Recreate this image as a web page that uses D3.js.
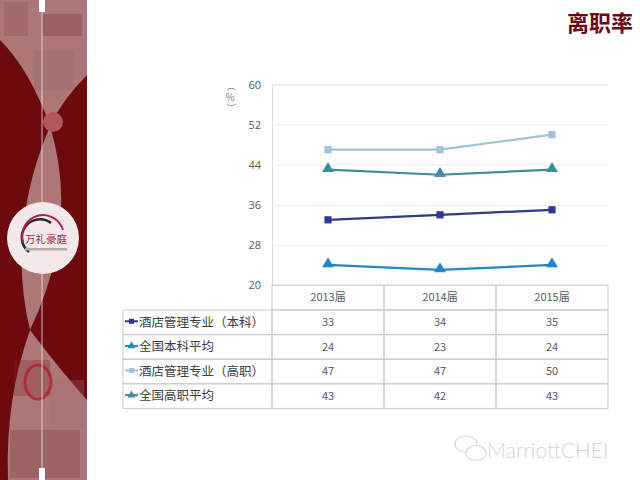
<!DOCTYPE html>
<html>
<head>
<meta charset="utf-8">
<script src="https://cdn.jsdelivr.net/npm/d3@7"></script>
<style>
  body { margin: 0; background: #fff; }
  svg { display: block; font-family: "Noto Sans CJK SC", "Open Sans", sans-serif; }
</style>
</head>
<body>
<div id="chart"></div>
<script>
// data
const categories = ["2013届", "2014届", "2015届"]
const seriesNames = ["酒店管理专业（本科）", "全国本科平均", "酒店管理专业（高职）", "全国高职平均"]
const benke = [33, 34, 35]
const benkeAvg = [24, 23, 24]
const gaozhi = [47, 47, 50]
const gaozhiAvg = [43, 42, 43]
const yTicks = [20, 28, 36, 44, 52, 60]

const seriesColors = ["#2e3a8c", "#2388c8", "#9cc3d9", "#3e8e9c"]
const seriesMarkers = ["square", "triangle", "square", "triangle"]
const series = [benke, benkeAvg, gaozhi, gaozhiAvg].map((values, i) => ({
  name: seriesNames[i],
  values: values,
  color: seriesColors[i],
  marker: seriesMarkers[i]
}))

const width = 640, height = 480

const svg = d3.select("#chart")
  .append("svg")
    .attr("width", width)
    .attr("height", height)

// ---- left decorative panel ----
const panel = svg.append("g").attr("id", "panel")
panel.append("rect")
  .attr("x", 0).attr("y", 0)
  .attr("width", 87).attr("height", height)
  .style("fill", "#6c0a0e")

const pink = "#ad7677"
// top piece
panel.append("path")
  .attr("d", "M0,0 L87,0 L87,75 Q62,100 50,126 Q30,70 0,40 Z")
  .style("fill", pink)
// middle lens
panel.append("path")
  .attr("d", "M50,126 Q80,225 30,330 Q6,230 50,126 Z")
  .style("fill", pink)
// bottom piece
panel.append("path")
  .attr("d", "M30,330 Q60,370 87,400 L87,480 L8,480 Q5,400 30,330 Z")
  .style("fill", pink)

// faint photo blocks
const blocks = [
  [4, 2, 24, 34, "#8a5054"], [42, 14, 40, 22, "#6f3034"], [34, 50, 40, 40, "#9c6a6a"],
  [14, 360, 36, 36, "#7d2a30"], [50, 380, 34, 48, "#9f7070"],
  [10, 430, 70, 48, "#7a3c3c"]
]
panel.selectAll("rect.block")
  .data(blocks)
  .enter()
  .append("rect")
    .attr("class", "block")
    .attr("x", d => d[0]).attr("y", d => d[1])
    .attr("width", d => d[2]).attr("height", d => d[3])
    .style("fill", d => d[4])
    .style("opacity", 0.3)

// red ring on lower part
panel.append("ellipse")
  .attr("cx", 38).attr("cy", 382).attr("rx", 13).attr("ry", 17)
  .style("fill", "none").style("stroke", "#b0202c").style("stroke-width", 3).style("opacity", 0.8)

panel.append("circle")
  .attr("cx", 53).attr("cy", 122).attr("r", 10)
  .style("fill", "#b0585a")

panel.append("line")
  .attr("x1", 42).attr("x2", 42)
  .attr("y1", 0).attr("y2", height)
  .style("stroke", "#f4e6e6").style("stroke-width", 1).style("opacity", 0.8)
panel.append("rect").attr("x", 39).attr("y", 0).attr("width", 6).attr("height", 12).style("fill", "#fff")
panel.append("rect").attr("x", 39).attr("y", 468).attr("width", 6).attr("height", 12).style("fill", "#fff")

// logo
const logo = panel.append("g").attr("transform", "translate(43,238)")
logo.append("circle").attr("r", 36).style("fill", "#f3e9ea")
logo.append("path")
  .attr("d", "M-14,14 A18,18 0 0 1 8,-15")
  .style("fill", "none").style("stroke", "#2b2b2b").style("stroke-width", 2.5)
logo.append("path")
  .attr("d", "M-20,4 A20,20 0 0 1 20,-8")
  .style("fill", "none").style("stroke", "#b01f4a").style("stroke-width", 2)
logo.append("text")
  .attr("x", 3).attr("y", 5)
  .attr("text-anchor", "middle")
  .style("font-size", "10.5px")
  .style("fill", "#a01f4c")
  .text("万礼豪庭")
logo.append("rect")
  .attr("x", -18).attr("y", 10).attr("width", 42).attr("height", 2.5)
  .style("fill", "#b9a9ad")

// ---- title ----
svg.append("text")
  .attr("x", 633).attr("y", 31)
  .attr("text-anchor", "end")
  .style("font-size", "22px")
  .style("font-weight", "bold")
  .style("fill", "#6b0a10")
  .text("离职率")

// ---- chart ----
const plotLeft = 272, plotRight = 608, plotTop = 84.5, plotBottom = 285

const x = d3.scaleBand()
  .domain(categories)
  .range([plotLeft, plotRight])

const y = d3.scaleLinear()
  .domain([20, 60])
  .range([plotBottom, plotTop])

const yAxis = svg.append("g")
  .attr("transform", `translate(${plotLeft},0)`)
  .call(d3.axisLeft(y)
    .tickValues(yTicks)
    .tickSize(-(plotRight - plotLeft))
    .tickPadding(11))

yAxis.select(".domain").style("stroke", "#d9d9d9")
yAxis.selectAll(".tick line").style("stroke", "#ececec")
yAxis.selectAll(".tick text")
  .style("font-family", "'Open Sans', sans-serif")
  .style("font-size", "11px")
  .style("fill", "#595959")

// y axis unit
const unit = svg.append("g").style("fill", "#7f7f7f").style("font-size", "10px")
unit.append("text")
  .attr("transform", "translate(230,86) rotate(90)")
  .attr("text-anchor", "middle").attr("dy", "0.35em")
  .text("（")
unit.append("text")
  .attr("x", 230).attr("y", 101)
  .attr("text-anchor", "middle")
  .text("%")
unit.append("text")
  .attr("transform", "translate(230,108) rotate(90)")
  .attr("text-anchor", "middle").attr("dy", "0.35em")
  .text("）")

const cx = d => x(d) + x.bandwidth() / 2

const line = d3.line()
  .x((v, i) => cx(categories[i]))
  .y(v => y(v))

const sq = d3.symbol().type(d3.symbolSquare).size(52)
const tri = d3.symbol().type(d3.symbolTriangle).size(60)
const sqSmall = d3.symbol().type(d3.symbolSquare).size(26)
const triSmall = d3.symbol().type(d3.symbolTriangle).size(28)

const lines = svg.append("g").attr("id", "lines")
series.forEach(s => {
  lines.append("path")
    .datum(s.values)
    .attr("d", line)
    .style("fill", "none")
    .style("stroke", s.color)
    .style("stroke-width", 2.2)
  lines.selectAll(null)
    .data(s.values)
    .enter()
    .append("path")
      .attr("d", s.marker === "square" ? sq : tri)
      .attr("transform", (v, i) => `translate(${cx(categories[i])},${y(v) + (s.marker === "square" ? 0 : -1)})`)
      .style("fill", s.color)
})

// ---- data table ----
const tableLeft = 123
const headerH = 25
const rowH = 24.6
const border = "#c9c9c9"
const table = svg.append("g").attr("id", "table")

// header cells
table.selectAll("rect.head")
  .data(categories)
  .enter()
  .append("rect")
    .attr("class", "head")
    .attr("x", d => x(d))
    .attr("y", plotBottom)
    .attr("width", x.bandwidth())
    .attr("height", headerH)
    .style("fill", "none")
    .style("stroke", border)
table.selectAll("text.head")
  .data(categories)
  .enter()
  .append("text")
    .attr("class", "head")
    .attr("x", d => cx(d))
    .attr("y", plotBottom + headerH / 2)
    .attr("dy", "0.35em")
    .attr("text-anchor", "middle")
    .style("font-size", "11px")
    .style("fill", "#595959")
    .text(d => d)

const rows = table.selectAll("g.row")
  .data(series)
  .enter()
  .append("g")
    .attr("class", "row")
    .attr("transform", (d, i) => `translate(0,${plotBottom + headerH + i * rowH})`)

rows.append("rect")
  .attr("x", tableLeft).attr("y", 0)
  .attr("width", plotLeft - tableLeft).attr("height", rowH)
  .style("fill", "none").style("stroke", border)

rows.selectAll("rect.cell")
  .data(categories)
  .enter()
  .append("rect")
    .attr("class", "cell")
    .attr("x", d => x(d)).attr("y", 0)
    .attr("width", x.bandwidth()).attr("height", rowH)
    .style("fill", "none").style("stroke", border)

rows.selectAll("text.val")
  .data(s => s.values)
  .enter()
  .append("text")
    .attr("class", "val")
    .attr("x", (v, i) => cx(categories[i]))
    .attr("y", rowH / 2)
    .attr("dy", "0.35em")
    .attr("text-anchor", "middle")
    .style("font-size", "11px")
    .style("fill", "#595959")
    .text(v => v)

// legend keys
rows.append("line")
  .attr("x1", 125).attr("x2", 138)
  .attr("y1", rowH / 2 - 1).attr("y2", rowH / 2 - 1)
  .style("stroke", d => d.color).style("stroke-width", 2)
rows.append("path")
  .attr("d", d => d.marker === "square" ? sqSmall() : triSmall())
  .attr("transform", `translate(131.5,${rowH / 2 - 1})`)
  .style("fill", d => d.color)
rows.append("text")
  .attr("x", 139)
  .attr("y", rowH / 2)
  .attr("dy", "0.35em")
  .style("font-size", "12.5px")
  .style("fill", "#404040")
  .text(d => d.name)

// ---- watermark ----
const wm = svg.append("g").attr("id", "watermark").style("opacity", 0.9)
wm.append("ellipse").attr("cx", 466).attr("cy", 444).attr("rx", 11).attr("ry", 8)
  .style("fill", "none").style("stroke", "#d2d2d2").style("stroke-width", 1.2)
wm.append("ellipse").attr("cx", 476).attr("cy", 453).attr("rx", 10).attr("ry", 7.5)
  .style("fill", "#fff").style("stroke", "#d2d2d2").style("stroke-width", 1.2)
wm.append("text")
  .attr("x", 487).attr("y", 458)
  .style("font-family", "Lato, 'Open Sans', sans-serif")
  .style("font-weight", 300)
  .style("font-size", "21px")
  .style("fill", "#cfcfcf")
  .text("MarriottCHEI")
</script>
</body>
</html>
